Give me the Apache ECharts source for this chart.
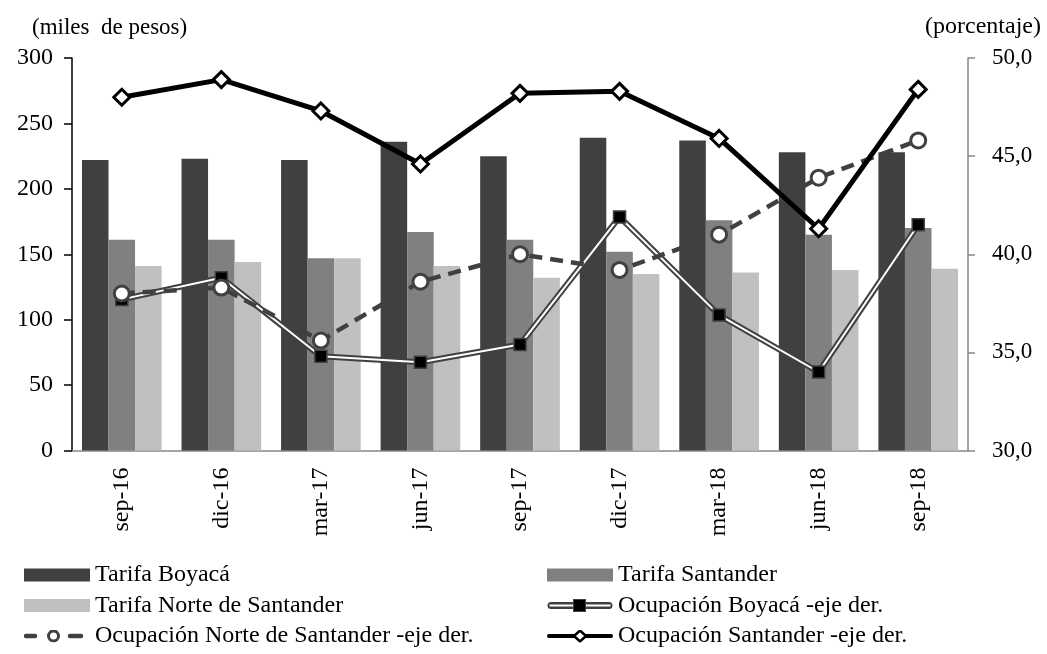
<!DOCTYPE html>
<html>
<head>
<meta charset="utf-8">
<script src="https://cdn.jsdelivr.net/npm/echarts@6/dist/echarts.min.js"></script>
<style>
html,body{margin:0;padding:0;background:#fff;}
#chart{width:1047px;height:654px;}
</style>
</head>
<body>
<div id="chart"></div>
<script>
var categories = ['sep-16','dic-16','mar-17','jun-17','sep-17','dic-17','mar-18','jun-18','sep-18'];
var tarifaBoyaca = [222, 223, 222, 236, 225, 239, 237, 228, 228];
var tarifaSantander = [161, 161, 147, 167, 161, 152, 176, 165, 170];
var tarifaNorte = [141, 144, 147, 141, 132, 135, 136, 138, 139];
var ocupBoyaca = [37.7, 38.8, 34.8, 34.5, 35.4, 41.9, 36.9, 34.0, 41.5];
var ocupNorte = [38.0, 38.3, 35.6, 38.6, 40.0, 39.2, 41.0, 43.9, 45.8];
var ocupSantander = [48.0, 48.9, 47.3, 44.6, 48.2, 48.3, 45.9, 41.3, 48.4];
var leftTicks = [0, 300, 50];
var rightTicks = [30, 50, 5];
var leftTitle = '(miles  de pesos)';
var rightTitle = '(porcentaje)';
var names = ['Tarifa Boyacá','Tarifa Santander','Tarifa Norte de Santander','Ocupación Boyacá -eje der.','Ocupación Norte de Santander -eje der.','Ocupación Santander -eje der.'];

var FONT = 'Liberation Serif';
function svgIcon(body) {
  var s = '<svg xmlns="http://www.w3.org/2000/svg" width="66" height="13" viewBox="0 0 66 13">' + body + '</svg>';
  return 'image://data:image/svg+xml;charset=utf-8,' + encodeURIComponent(s);
}
var boyacaIcon = svgIcon(
  '<rect x="0.5" y="3" width="65" height="7" rx="3.5" fill="#404040"/>' +
  '<rect x="2.5" y="5.5" width="61" height="2" fill="#ffffff"/>' +
  '<rect x="26.5" y="0.5" width="12" height="12" fill="#000" stroke="#404040" stroke-width="1"/>');
var norteIcon = svgIcon(
  '<line x1="2" y1="6.5" x2="11" y2="6.5" stroke="#404040" stroke-width="4.5" stroke-linecap="round"/>' +
  '<line x1="46" y1="6.5" x2="57" y2="6.5" stroke="#404040" stroke-width="4.5" stroke-linecap="round"/>' +
  '<circle cx="29.5" cy="6.5" r="5" fill="#ffffff" stroke="#404040" stroke-width="3"/>');
var santanderIcon = svgIcon(
  '<line x1="2" y1="6.5" x2="64" y2="6.5" stroke="#000" stroke-width="4" stroke-linecap="round"/>' +
  '<polygon points="33,1 39,6.5 33,12 27,6.5" fill="#ffffff" stroke="#000" stroke-width="2.5"/>');

var chart = echarts.init(document.getElementById('chart'), null, {renderer:'canvas'});
var legendText = {fontFamily: FONT, fontSize: 24, lineHeight: 24, color: '#000'};
var option = {
  backgroundColor: '#ffffff',
  animation: false,
  textStyle: {fontFamily: FONT, color: '#000'},
  grid: {left: 72, right: 79, top: 58, bottom: 203.5, containLabel: false},
  graphic: [
    {type:'text', left: 32, top: 16, style:{text: leftTitle, fontFamily: FONT, fontSize: 23, fill:'#000'}},
    {type:'text', right: 6, top: 15, style:{text: rightTitle, fontFamily: FONT, fontSize: 24, fill:'#000'}}
  ],
  legend: [
    {
      orient: 'vertical', left: 24, top: 563, padding: 0, itemGap: 6.5,
      itemWidth: 66, itemHeight: 13,
      textStyle: legendText,
      data: [
        {name: names[0], icon: 'rect'},
        {name: names[2], icon: 'rect'},
        {name: names[4], icon: norteIcon}
      ]
    },
    {
      orient: 'vertical', left: 547, top: 563, padding: 0, itemGap: 6.5,
      itemWidth: 66, itemHeight: 13,
      textStyle: legendText,
      data: [
        {name: names[1], icon: 'rect'},
        {name: names[3], icon: boyacaIcon},
        {name: names[5], icon: santanderIcon}
      ]
    }
  ],
  xAxis: {
    type: 'category', data: categories, boundaryGap: true,
    axisLine: {lineStyle: {color: '#868686', width: 1.5}},
    axisTick: {show: false},
    axisLabel: {rotate: 90, margin: 17, fontFamily: FONT, fontSize: 24, color: '#000'}
  },
  yAxis: [
    {
      type: 'value', min: leftTicks[0], max: leftTicks[1], interval: leftTicks[2],
      axisLine: {show: true, lineStyle: {color: '#000', width: 1.5}},
      axisTick: {show: true, inside: false, length: 8, lineStyle: {color: '#000', width: 1.5}},
      axisLabel: {margin: 19, fontFamily: FONT, fontSize: 24, color: '#000'},
      splitLine: {show: false}
    },
    {
      type: 'value', min: rightTicks[0], max: rightTicks[1], interval: rightTicks[2],
      position: 'right',
      axisLine: {show: true, lineStyle: {color: '#868686', width: 1.5}},
      axisTick: {show: true, inside: false, length: 7, lineStyle: {color: '#868686', width: 1.5}},
      axisLabel: {margin: 24, fontFamily: FONT, fontSize: 23, color: '#000',
        formatter: function(v){ return v.toFixed(1).replace('.', ','); }},
      splitLine: {show: false}
    }
  ],
  series: [
    {name: names[0], type: 'bar', data: tarifaBoyaca, barGap: '0%', barCategoryGap: '20%',
     itemStyle: {color: '#404040'}},
    {name: names[1], type: 'bar', data: tarifaSantander, barGap: '0%', barCategoryGap: '20%',
     itemStyle: {color: '#808080'}},
    {name: names[2], type: 'bar', data: tarifaNorte, barGap: '0%', barCategoryGap: '20%',
     itemStyle: {color: '#c0c0c0'}},
    {name: 'boyaca-outer', type: 'line', yAxisIndex: 1, data: ocupBoyaca, showSymbol: false,
     lineStyle: {color: '#404040', width: 6}, itemStyle: {color: '#404040'}, z: 3, silent: true},
    {name: names[3], type: 'line', yAxisIndex: 1, data: ocupBoyaca,
     symbol: 'rect', symbolSize: 12,
     lineStyle: {color: '#ffffff', width: 2},
     itemStyle: {color: '#000000', borderColor: '#404040', borderWidth: 1.5}, z: 4},
    {name: names[4], type: 'line', yAxisIndex: 1, data: ocupNorte,
     symbol: 'circle', symbolSize: 15,
     lineStyle: {color: '#404040', width: 4.5, type: [13, 8]},
     itemStyle: {color: '#ffffff', borderColor: '#404040', borderWidth: 3}, z: 5},
    {name: names[5], type: 'line', yAxisIndex: 1, data: ocupSantander,
     symbol: 'diamond', symbolSize: 16,
     lineStyle: {color: '#000000', width: 5},
     itemStyle: {color: '#ffffff', borderColor: '#000000', borderWidth: 3}, z: 6}
  ]
};
chart.setOption(option);
</script>
</body>
</html>
